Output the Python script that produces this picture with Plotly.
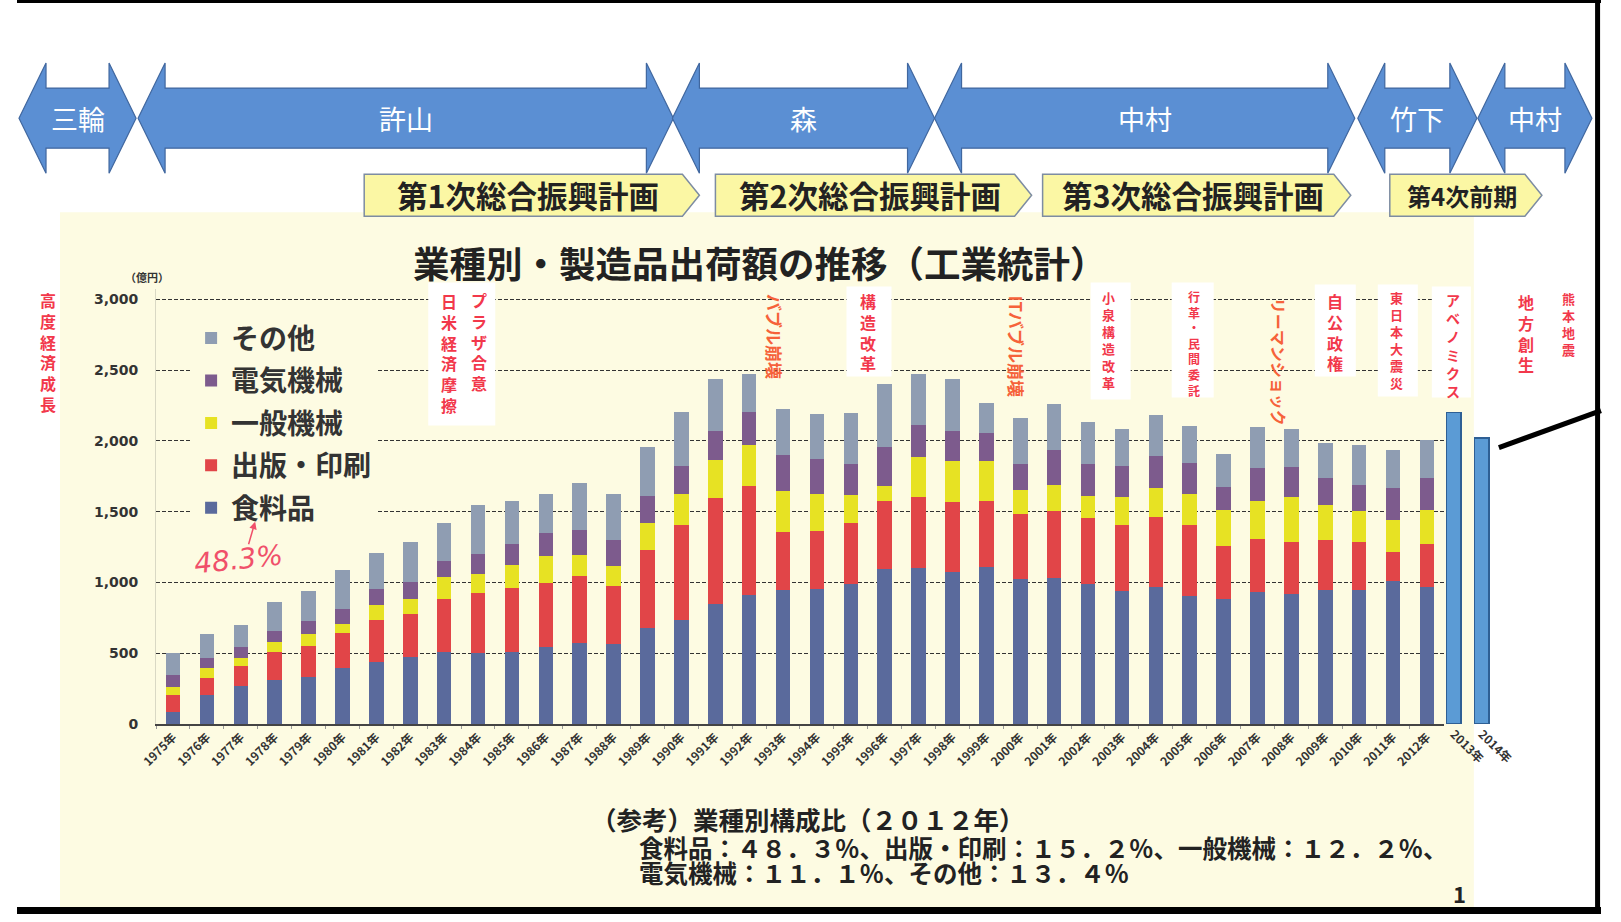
import plotly.graph_objects as go

W, H = 1621, 922

# ---------------- data ----------------
years = [f"{y}年" for y in range(1975, 2013)]
food = [83, 205, 271, 311, 335, 394, 436, 476, 505, 500, 505, 547, 575, 564, 676,
        734, 845, 911, 946, 953, 988, 1094, 1099, 1075, 1111,
        1024, 1028, 986, 939, 969, 902, 882, 929, 918, 946,
        946, 1012, 965]
printing = [122, 123, 135, 194, 217, 252, 300, 302, 379, 424, 455, 448, 472, 412, 552,
            671, 748, 771, 412, 409, 433, 483, 501, 490, 463,
            456, 476, 471, 470, 495, 505, 377, 377, 364, 355,
            336, 200, 306]
general_mach = [59, 66, 63, 73, 82, 61, 106, 106, 154, 137, 165, 193, 148, 142, 194,
                223, 275, 292, 287, 266, 195, 103, 287, 292, 283,
                172, 183, 155, 196, 200, 221, 254, 270, 323, 247,
                219, 228, 242]
electric_mach = [83, 75, 73, 82, 95, 104, 111, 116, 115, 139, 148, 161, 177, 184, 190,
                 193, 203, 231, 254, 247, 224, 278, 224, 214, 195,
                 181, 247, 228, 216, 230, 216, 158, 231, 212, 193,
                 188, 226, 228]
other = [153, 165, 154, 205, 207, 278, 254, 285, 267, 349, 300, 278, 330, 325, 345,
         384, 369, 270, 329, 313, 358, 442, 364, 369, 212,
         329, 325, 294, 266, 287, 260, 235, 292, 265, 247,
         280, 268, 264]
extra_years = ["2013年", "2014年"]
extra_totals = [2200, 2020]

y_ticks = [0, 500, 1000, 1500, 2000, 2500, 3000]
y_ticktext = ["0", "500", "1,000", "1,500", "2,000", "2,500", "3,000"]

# (name, values, colour, legend rank)
series = [
    ("食料品", food, "#5a6a9c", 5),
    ("出版・印刷", printing, "#e14548", 4),
    ("一般機械", general_mach, "#e7e223", 3),
    ("電気機械", electric_mach, "#7d5b8d", 2),
    ("その他", other, "#8f9db2", 1),
]

eras = [("三輪", 18, 135), ("許山", 137, 672), ("森", 671, 933),
        ("中村", 933, 1353), ("竹下", 1356, 1475), ("中村", 1476, 1590)]
plans = [("第1次総合振興計画", 363, 698, 30.5), ("第2次総合振興計画", 714, 1030, 30.5),
         ("第3次総合振興計画", 1041, 1349, 30.5), ("第4次前期", 1388, 1540, 24)]

footer_lines = [
    "（参考）業種別構成比（２０１２年）",
    "食料品：４８．３％、出版・印刷：１５．２％、一般機械：１２．２％、",
    "電気機械：１１．１％、その他：１３．４％",
]

FONT = "Noto Sans CJK JP"
BG = "#fdfbe2"
RED = "#f2384b"
ORANGE = "#f6623a"

# layout positions are given in the reference picture's pixels; the photographed
# page comes back slightly narrowed, so map them onto page pixels.
SX, AX = 0.9766, 16.0
SY, AY = 0.99, 1.0


def px(x):
    return (x - AX) / SX / W


def py(y):
    return 1 - (y - AY) / SY / H


fig = go.Figure()
for name, vals, color, rank in series:
    fig.add_bar(x=years, y=vals, name=name, marker_color=color, marker_line_width=0,
                width=0.43, legendgroup=name, legendrank=rank)
fig.add_bar(x=extra_years, y=extra_totals, xaxis="x2", yaxis="y2", showlegend=False,
            width=0.52, marker=dict(color="#5b9bd5", line=dict(color="#2e5f94", width=1.5)))

shapes = []
annotations = []

# chart background (yellow paper)
shapes.append(dict(type="rect", xref="paper", yref="paper", x0=px(59), x1=px(1472),
                   y0=0, y1=py(213), fillcolor=BG, line_width=0, layer="below"))

# era double arrows
for label, xl, xr in eras:
    yc, Hh, hs, L = 119, 55, 30, 27
    pts = [(xl, yc), (xl + L, yc - Hh), (xl + L, yc - hs), (xr - L, yc - hs), (xr - L, yc - Hh),
           (xr, yc), (xr - L, yc + Hh), (xr - L, yc + hs), (xl + L, yc + hs), (xl + L, yc + Hh)]
    path = "M " + " L ".join(f"{px(a):.5f},{py(b):.5f}" for a, b in pts) + " Z"
    shapes.append(dict(type="path", xref="paper", yref="paper", path=path,
                       fillcolor="#5b8fd3", line=dict(color="#40679f", width=1.2)))
    annotations.append(dict(x=px((xl + xr) / 2), y=py(yc), xref="paper", yref="paper",
                            text=label, showarrow=False, xanchor="center", yanchor="middle",
                            font=dict(family=FONT, size=27, color="white")))

# plan pentagons
for label, xl, xr, fs in plans:
    y0, y1, tip = 175, 217, 17
    pts = [(xl, y0), (xr - tip, y0), (xr, (y0 + y1) / 2), (xr - tip, y1), (xl, y1)]
    path = "M " + " L ".join(f"{px(a):.5f},{py(b):.5f}" for a, b in pts) + " Z"
    shapes.append(dict(type="path", xref="paper", yref="paper", path=path,
                       fillcolor="#fbf7a4", line=dict(color="#7d8ca2", width=1.5)))
    annotations.append(dict(x=px((xl + xr) / 2 - 4), y=py((y0 + y1) / 2), xref="paper", yref="paper",
                            text=label, showarrow=False, xanchor="center", yanchor="middle",
                            font=dict(family=FONT, size=fs, color="#222", weight="bold")))

# white boxes behind event notes
for x0, x1, y0, y1 in [(427, 494, 283, 426), (845, 890, 287, 377), (1089, 1129, 283, 400),
                       (1170, 1212, 283, 398), (1313, 1354, 285, 377), (1376, 1416, 285, 397),
                       (1430, 1469, 287, 398)]:
    shapes.append(dict(type="rect", xref="paper", yref="paper", x0=px(x0), x1=px(x1),
                       y0=py(y1), y1=py(y0), fillcolor="white", line_width=0, layer="above"))


def vtext(s, x, ytop, size, color=RED):
    # vertical (tategaki) text: one character per line
    n = len(s)
    ymid = ytop + n * size * 1.3 / 2
    annotations.append(dict(x=px(x), y=py(ymid), xref="paper", yref="paper",
                            text="<br>".join(s), showarrow=False, xanchor="center",
                            yanchor="middle", align="center",
                            font=dict(family=FONT, size=size, color=color, weight="bold")))


def rtext(s, x, ymid, size, color=ORANGE):
    annotations.append(dict(x=px(x), y=py(ymid), xref="paper", yref="paper", text=s,
                            showarrow=False, textangle=90, xanchor="center", yanchor="middle",
                            font=dict(family=FONT, size=size, color=color, weight="bold")))


vtext("高度経済成長", 47, 290, 16)
vtext("プラザ合意", 478, 290, 16)
vtext("日米経済摩擦", 448, 291, 16)
rtext("バブル崩壊", 773, 337, 17)
vtext("構造改革", 866, 291, 16)
rtext("ITバブル崩壊", 1015, 347, 17)
vtext("小泉構造改革", 1107, 290, 13)
vtext("行革・民間委託", 1192, 289, 12)
rtext("リーマンショック", 1277, 362, 16)
vtext("自公政権", 1333, 291, 16)
vtext("東日本大震災", 1395, 290, 13)
vtext("アベノミクス", 1451, 291, 14)
vtext("地方創生", 1524, 292, 16)
vtext("熊本地震", 1567, 291, 13)

# title and labels
annotations.append(dict(x=px(759), y=py(263), xref="paper", yref="paper",
                        text="業種別・製造品出荷額の推移（工業統計）", showarrow=False,
                        xanchor="center", yanchor="middle",
                        font=dict(family=FONT, size=36.5, color="#222", weight="bold")))
annotations.append(dict(x=px(146), y=py(278), xref="paper", yref="paper", text="（億円）",
                        showarrow=False, xanchor="center", yanchor="middle",
                        font=dict(family=FONT, size=11, color="#333", weight="bold")))
for text, x, y, fs in [(footer_lines[0], 588, 818, 25.5),
                       (footer_lines[1], 636, 847, 24.5),
                       (footer_lines[2], 636, 872, 24.5)]:
    annotations.append(dict(x=px(x), y=py(y), xref="paper", yref="paper", text=text,
                            showarrow=False, xanchor="left", yanchor="middle",
                            font=dict(family=FONT, size=fs, color="#222", weight="bold")))
annotations.append(dict(x=px(1458), y=py(893), xref="paper", yref="paper", text="1",
                        showarrow=False, xanchor="center", yanchor="middle",
                        font=dict(family=FONT, size=22, color="#222", weight="bold")))
# handwritten note
annotations.append(dict(x=px(237), y=py(560), xref="paper", yref="paper", text="48.3%",
                        showarrow=False, xanchor="center", yanchor="middle", textangle=-6,
                        font=dict(family="DejaVu Sans", size=28, color="#f0506a", style="italic")))
annotations.append(dict(x=px(254), y=py(522), xref="paper", yref="paper", text="",
                        showarrow=True, ax=-7, ay=24, arrowhead=2, arrowsize=1, arrowwidth=1.5,
                        arrowcolor="#f0506a"))

# frame lines
shapes += [
    dict(type="line", xref="paper", yref="paper", x0=0, x1=1, y0=py(2.5), y1=py(2.5),
         line=dict(color="black", width=3)),
    dict(type="line", xref="paper", yref="paper", x0=1 - 3.5 / W, x1=1 - 3.5 / W, y0=4 / H, y1=1,
         line=dict(color="black", width=5)),
    dict(type="rect", xref="paper", yref="paper", x0=0, x1=1, y0=0, y1=7 / H,
         fillcolor="black", line_width=0),
    dict(type="line", xref="paper", yref="paper", x0=px(1497), x1=1, y0=py(448), y1=py(411),
         line=dict(color="black", width=5)),
]

ydom = [py(724), py(290)]
fig.update_layout(
    width=W, height=H, margin=dict(l=0, r=0, t=0, b=0),
    paper_bgcolor="white", plot_bgcolor="rgba(0,0,0,0)",
    barmode="stack", shapes=shapes, annotations=annotations,
    font=dict(family=FONT),
    xaxis=dict(domain=[px(155), px(1442)], type="category", range=[-0.5, 37.5],
               tickangle=-45, tickfont=dict(family=FONT, size=12, color="#333", weight="bold"),
               showline=True, linecolor="#444", linewidth=1.5, ticks="outside", ticklen=3,
               tickcolor="#999", tickson="boundaries", showgrid=False, anchor="y"),
    yaxis=dict(domain=ydom, range=[0, 3070], tickvals=y_ticks, ticktext=y_ticktext,
               tickfont=dict(family="DejaVu Sans", size=14, color="#333", weight="bold"),
               showgrid=True, gridcolor="#333", gridwidth=1.3, griddash="4px,2px",
               zeroline=False, showline=True, linecolor="#d9d8c4", linewidth=1,
               ticklabelstandoff=14, anchor="x"),
    xaxis2=dict(domain=[px(1438), px(1494)], type="category", range=[-0.5, 1.5], anchor="y2",
                tickangle=45, tickfont=dict(family=FONT, size=12, color="#333", weight="bold"),
                showgrid=False, showline=False, ticks=""),
    yaxis2=dict(domain=ydom, range=[0, 3070], anchor="x2", visible=False),
    legend=dict(x=px(190), y=py(314), xanchor="left", yanchor="top", bgcolor=BG,
                traceorder="grouped", tracegroupgap=3, itemwidth=30,
                font=dict(family=FONT, size=28, color="#333", weight="bold")),
    showlegend=True,
)

fig.write_html("out.html")
